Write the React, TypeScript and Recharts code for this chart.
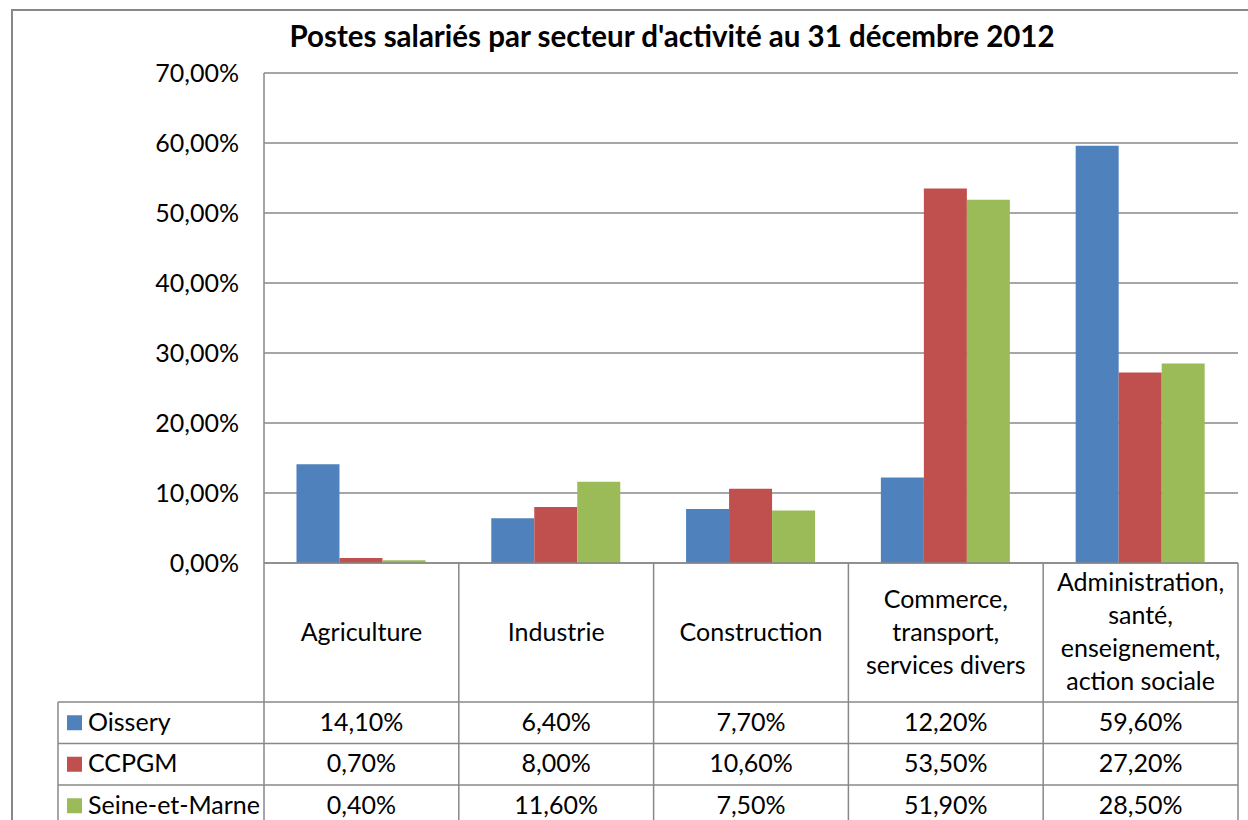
import { Bar, BarChart, CartesianGrid, XAxis, YAxis } from "recharts";

const categories = [
  "Agriculture",
  "Industrie",
  "Construction",
  "Commerce, transport, services divers",
  "Administration, santé, enseignement, action sociale",
];
const categoryLines = [
  ["Agriculture"],
  ["Industrie"],
  ["Construction"],
  ["Commerce,", "transport,", "services divers"],
  ["Administration,", "santé,", "enseignement,", "action sociale"],
];
const seriesNames = ["Oissery", "CCPGM", "Seine-et-Marne"];
const seriesColors = ["#4F81BD", "#C0504D", "#9BBB59"];
const oissery = [14.1, 6.4, 7.7, 12.2, 59.6];
const ccpgm = [0.7, 8.0, 10.6, 53.5, 27.2];
const seineEtMarne = [0.4, 11.6, 7.5, 51.9, 28.5];
const yTicks = [0, 10, 20, 30, 40, 50, 60, 70];

const seriesValues = [oissery, ccpgm, seineEtMarne];
const data = categories.map((name, i) => ({
  name,
  s0: oissery[i],
  s1: ccpgm[i],
  s2: seineEtMarne[i],
}));

const W = 1248;
const H = 820;
const PLOT_LEFT = 264;
const PLOT_RIGHT = 1238;
const PLOT_TOP = 73;
const PLOT_BOTTOM = 563;
const CAT_H = 139;
const ROW_H = 41.5;
const LEGEND_X = 58;
const LINE = "#888888";
const FONT = "Lato, 'Open Sans', sans-serif";
const FS = 25;
const TEXT_DY = -2;

const fmt = (v: number) => v.toFixed(2).replace(".", ",") + "%";

// category cell + the three value cells below it (and the legend column for the first one)
function TableTick(props: any) {
  const { x, y, payload } = props;
  const i = payload.index;
  const colW = (PLOT_RIGHT - PLOT_LEFT) / categories.length;
  const left = x - colW / 2;
  const right = x + colW / 2;
  const lines = categoryLines[i];
  const lineH = 33;
  const startY = y + CAT_H / 2 - ((lines.length - 1) * lineH) / 2 + TEXT_DY;
  const tableTop = y + CAT_H;

  return (
    <g fontFamily={FONT} fontSize={FS} fill="#000">
      {lines.map((l, k) => (
        <text key={k} x={x} y={startY + k * lineH} textAnchor="middle" dominantBaseline="central">
          {l}
        </text>
      ))}
      <line x1={right} y1={y} x2={right} y2={H} stroke={LINE} strokeWidth={1.5} />
      {i === 0 && <line x1={left} y1={y} x2={left} y2={H} stroke={LINE} strokeWidth={1.5} />}
      {seriesNames.map((_, r) => (
        <g key={r}>
          <line
            x1={i === 0 ? LEGEND_X : left}
            y1={tableTop + r * ROW_H}
            x2={right}
            y2={tableTop + r * ROW_H}
            stroke={LINE}
            strokeWidth={1.5}
          />
          <text
            x={x}
            y={tableTop + r * ROW_H + ROW_H / 2 + TEXT_DY}
            textAnchor="middle"
            dominantBaseline="central"
          >
            {fmt(seriesValues[r][i])}
          </text>
        </g>
      ))}
      {i === 0 && (
        <g>
          <line x1={LEGEND_X} y1={tableTop} x2={LEGEND_X} y2={H} stroke={LINE} strokeWidth={1.5} />
          {seriesNames.map((n, r) => {
            const cy = tableTop + r * ROW_H + ROW_H / 2;
            return (
              <g key={n}>
                <rect x={67} y={cy - 7.5} width={15} height={15} fill={seriesColors[r]} />
                <text x={88} y={cy + TEXT_DY} textAnchor="start" dominantBaseline="central">
                  {n}
                </text>
              </g>
            );
          })}
        </g>
      )}
    </g>
  );
}

export default function App() {
  return (
    <div style={{ position: "absolute", left: 0, top: 0, width: W, height: H, overflow: "hidden", background: "#fff" }}>
      <div
        style={{
          position: "absolute",
          left: 11,
          top: 9,
          width: 1400,
          height: 1000,
          border: `2px solid ${LINE}`,
        }}
      />
      <div
        style={{
          position: "absolute",
          left: 0,
          width: 1344,
          top: 16,
          textAlign: "center",
          fontFamily: FONT,
          fontWeight: 700,
          fontSize: 29.5,
          lineHeight: "40px",
          color: "#000",
        }}
      >
        Postes salariés par secteur d'activité au 31 décembre 2012
      </div>
      <div style={{ position: "absolute", left: 0, top: 0 }}>
        <BarChart
          width={W}
          height={H}
          data={data}
          margin={{ top: PLOT_TOP, right: W - PLOT_RIGHT, bottom: H - PLOT_BOTTOM - CAT_H, left: 0 }}
          barCategoryGap="16.67%"
          barGap={0}
        >
          <CartesianGrid vertical={false} stroke={LINE} strokeWidth={1.5} />
          <XAxis
            dataKey="name"
            interval={0}
            height={CAT_H}
            tickLine={false}
            tickSize={0}
            tickMargin={0}
            axisLine={{ stroke: LINE, strokeWidth: 1.5 }}
            tick={(p: any) => <TableTick {...p} />}
          />
          <YAxis
            width={PLOT_LEFT}
            domain={[0, 70]}
            ticks={yTicks}
            tickFormatter={fmt}
            tickLine={false}
            tickSize={0}
            tickMargin={25}
            axisLine={{ stroke: LINE, strokeWidth: 1.5 }}
            tick={{ fontFamily: FONT, fontSize: FS, fill: "#000" }}
          />
          {seriesNames.map((n, k) => (
            <Bar key={n} dataKey={`s${k}`} name={n} fill={seriesColors[k]} isAnimationActive={false} />
          ))}
        </BarChart>
      </div>
    </div>
  );
}
